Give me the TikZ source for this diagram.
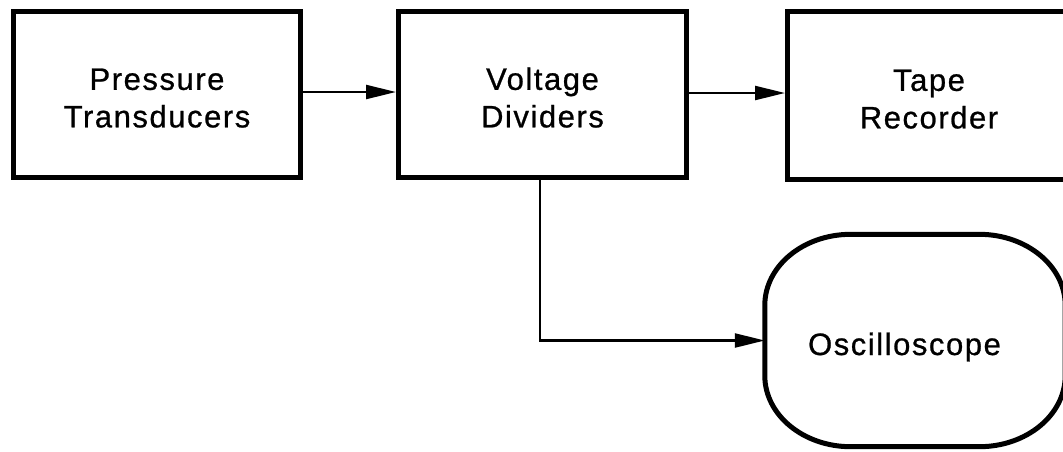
\documentclass[tikz,border=0pt]{standalone}
\usepackage{fontspec}
\setmainfont{Liberation Sans}[LetterSpace=5,FakeBold=0.8]
\usetikzlibrary{arrows.meta}
\newcommand{\topfix}{\rule{0pt}{29.5pt}}
\begin{document}
\begin{tikzpicture}[x=1pt,y=-1pt,
  blockbox/.style={draw, line width=5pt, rectangle, inner sep=0pt, align=center,
    font=\fontsize{31}{37.5}\selectfont},
  txt/.style={inner sep=0pt, font=\fontsize{31}{37.5}\selectfont},
  arr/.style={line width=2.3pt, -{Triangle[length=30pt,width=14pt]}},
  outline/.style={line width=5pt, line join=round}]
\useasboundingbox (0,0) rectangle (1063,451);
\clip (0,0) rectangle (1063,451);
\node[blockbox, minimum width=287pt, minimum height=166pt] (pt) at (157,94) {\topfix Pressure\\Transducers};
\node[blockbox, minimum width=288pt, minimum height=166pt] (vd) at (542.5,94) {\topfix Voltage\\Dividers};
\node[blockbox, minimum width=283pt, minimum height=168pt] (tr) at (929,95) {\topfix Tape\\Recorder};
\node[inner sep=0pt, minimum width=300pt, minimum height=212pt] (osc) at (915,340.5) {};
\draw[outline] ([xshift=86pt]osc.north west) -- ([xshift=-86pt]osc.north east)
  arc[start angle=90, end angle=0, x radius=86pt, y radius=71pt]
  -- ([yshift=71pt]osc.south east)
  arc[start angle=0, end angle=-90, x radius=86pt, y radius=71pt]
  -- ([xshift=86pt]osc.south west)
  arc[start angle=270, end angle=180, x radius=86pt, y radius=71pt]
  -- ([yshift=-71pt]osc.north west)
  arc[start angle=180, end angle=90, x radius=86pt, y radius=71pt] -- cycle;
\node[txt, anchor=base] (osclabel) at (904.5,355) {Oscilloscope};
\draw[arr] ([yshift=2pt]pt.east) -- ([yshift=2pt]vd.west);
\draw[arr] ([yshift=1pt]vd.east) -- ([yshift=1pt]vd.east -| tr.west);
\draw[arr] ([xshift=-2.5pt]vd.south) |- (osc.west);
\end{tikzpicture}
\end{document}
